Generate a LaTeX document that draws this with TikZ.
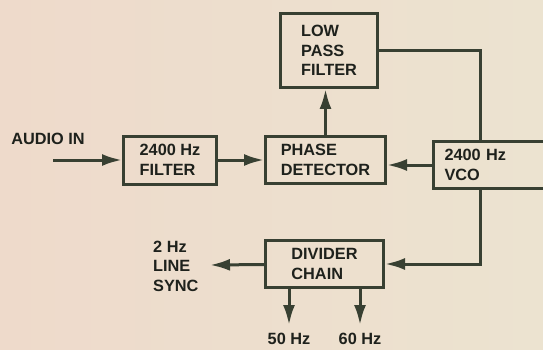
\documentclass[tikz,border=0pt]{standalone}
\usepackage{fontspec}
\setmainfont{Liberation Sans}
\usepackage{xcolor}
\usetikzlibrary{arrows.meta, positioning, calc}

\definecolor{paperl}{RGB}{238,218,203}
\definecolor{paperr}{RGB}{236,227,208}
\definecolor{ink}{RGB}{56,64,50}
\definecolor{txt}{RGB}{30,33,28}

\begin{document}
\begin{tikzpicture}[x=1pt, y=-1pt, line width=3pt, ink]
    % Styles
    \tikzstyle{block} = [rectangle, draw=ink, text=txt, align=left, font=\bfseries\fontsize{16.3}{19.5}\selectfont, minimum height=47pt, inner sep=2pt]
    \tikzstyle{label} = [text=txt, align=left, font=\bfseries\fontsize{16.3}{19.5}\selectfont, inner sep=0pt]
    \tikzstyle{line} = [draw=ink, -{Latex[length=20pt,width=12pt]}]

    % Paper
    \fill[left color=paperl, right color=paperr] (0,0) rectangle (543,350);
    \useasboundingbox (0,0) rectangle (543,350);

    % Nodes
    \node [block, minimum width=93pt, minimum height=48pt] (filter) at (170,160) {2400 Hz\\FILTER};
    \node [block, minimum width=120pt, right=46pt of filter] (phase) {PHASE\\DETECTOR};
    \node [block, minimum width=97pt, minimum height=74pt, above=46pt of phase, xshift=3.5pt] (lowpass) {LOW\\PASS\\FILTER};
    \node [block, minimum width=112pt, right=45pt of phase, yshift=-5pt, text width=90pt] (vco) {2400 Hz\\VCO};
    \node [block, minimum width=118pt, below=54pt of phase, xshift=-1pt] (divider) {DIVIDER\\CHAIN};

    \node [label] (audio) at (48,138.5) {AUDIO IN};
    \coordinate (audioend) at (53,160);
    \coordinate (syncend) at (210,265);
    \node [label, left=10pt of syncend, yshift=-1pt] (sync) {2 Hz\\LINE\\SYNC};
    \coordinate (tap50) at ($(divider.south west)+(25,0)$);
    \coordinate (tap60) at ($(divider.south east)+(-25,0)$);
    \coordinate (out50) at ($(tap50)+(0,36)$);
    \coordinate (out60) at ($(tap60)+(0,36)$);
    \node [label, below=7pt of out50] (hz50) {50 Hz};
    \node [label, below=7pt of out60] (hz60) {60 Hz};
    \coordinate (vcotap) at ($(vco.north west)+(48,0)$);

    % Edges
    \draw [line] (audioend) -- (filter);
    \draw [line] (filter) -- (phase);
    \draw [line] (phase.north -| lowpass.south) ++(-3.5,0) -- ++(0,-46);
    \draw [line] (vco.west) -- (vco.west -| phase.east);
    \draw [ink] (lowpass.east) -| (vcotap);
    \draw [line] (vcotap |- vco.south) |- (divider.east);
    \draw [line] (divider) -- (syncend);
    \draw [line] (tap50) -- (out50);
    \draw [line] (tap60) -- (out60);
\end{tikzpicture}
\end{document}
